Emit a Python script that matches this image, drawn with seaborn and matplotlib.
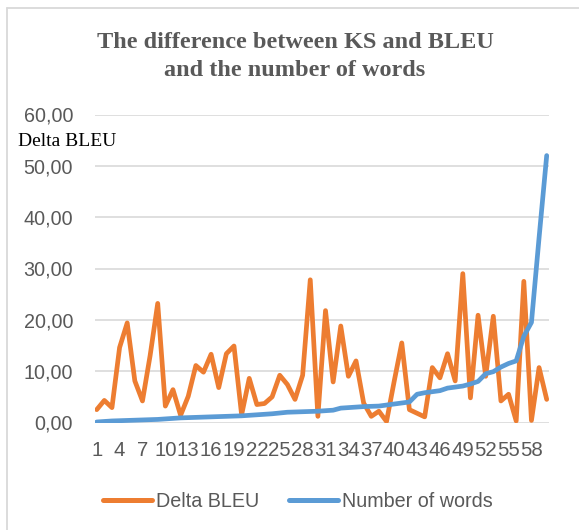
import matplotlib
matplotlib.use("Agg")
import matplotlib.pyplot as plt
import seaborn as sns
import numpy as np
import pandas as pd
from matplotlib.ticker import FuncFormatter, FixedLocator
from matplotlib.lines import Line2D

# ---- data ----
points = list(range(1, 61))
delta_bleu = [2.5, 4.3, 2.9, 14.6, 19.4, 8.1, 4.2, 13.0, 23.2, 3.2,
              6.4, 1.4, 5.1, 11.1, 9.8, 13.3, 6.8, 13.4, 14.9, 1.5,
              8.6, 3.5, 3.7, 5.0, 9.2, 7.4, 4.5, 9.2, 27.8, 1.2,
              21.8, 7.9, 18.8, 9.0, 12.0, 3.8, 1.2, 2.2, 0.2, 8.0,
              15.5, 2.5, 1.8, 1.1, 10.7, 8.7, 13.4, 8.1, 29.0, 4.8,
              20.9, 9.0, 20.7, 4.2, 5.5, 0.3, 27.5, 0.4, 10.7, 4.5]
number_of_words = [0.1, 0.2, 0.3, 0.35, 0.4, 0.45, 0.5, 0.55, 0.6, 0.7,
                   0.8, 0.9, 0.95, 1.0, 1.05, 1.1, 1.15, 1.2, 1.25, 1.3,
                   1.4, 1.5, 1.6, 1.7, 1.85, 2.0, 2.05, 2.1, 2.15, 2.2,
                   2.3, 2.4, 2.8, 2.9, 3.0, 3.1, 3.15, 3.2, 3.4, 3.6,
                   3.8, 4.0, 5.5, 5.8, 6.0, 6.2, 6.7, 6.9, 7.1, 7.5,
                   8.0, 9.5, 9.9, 10.8, 11.5, 12.0, 16.8, 19.5, 36.0, 52.0]
x_tick_labels = [str(v) for v in range(1, 61, 3)]
y_ticks = [0, 10, 20, 30, 40, 50, 60]
title_lines = ["The difference between KS and BLEU", "and the number of words"]
series_names = ["Delta BLEU", "Number of words"]
y_label = "Delta BLEU"

df = pd.DataFrame({"point": points, "Delta BLEU": delta_bleu,
                   "Number of words": number_of_words})

ORANGE = "#ED7D31"
BLUE = "#5B9BD5"
GREY_TXT = "#595959"
GRID = "#D9D9D9"

sns.set_style("white")
plt.rcParams["font.family"] = ["Liberation Sans", "DejaVu Sans"]

W, H = 579, 530
fig = plt.figure(figsize=(W / 100, H / 100), dpi=100)
left, right, bottom, top = 95, 549, 422.5, 114.5
ax = fig.add_axes([left / W, 1 - bottom / H, (right - left) / W, (bottom - top) / H])

sns.lineplot(data=df, x="point", y="Delta BLEU", ax=ax, color=ORANGE,
             linewidth=3.4, solid_capstyle="round", zorder=3)
sns.lineplot(data=df, x="point", y="Number of words", ax=ax, color=BLUE,
             linewidth=3.4, solid_capstyle="round", zorder=4)

scale = 450 / 59
ax.set_xlim(1 - 1.7 / scale, 60 + 2.3 / scale)
ax.set_ylim(0, 60)
ax.xaxis.set_major_locator(FixedLocator(list(range(1, 61, 3))))
ax.set_xticklabels(x_tick_labels)
ax.set_yticks(y_ticks)
ax.yaxis.set_major_formatter(FuncFormatter(lambda v, p: f"{v:.2f}".replace(".", ",")))
ax.grid(axis="y", color=GRID, linewidth=1.2)
ax.grid(axis="x", visible=False)
ax.set_axisbelow(True)
for s in ax.spines.values():
    s.set_visible(False)
ax.tick_params(axis="both", length=0, labelcolor=GREY_TXT)
ax.tick_params(axis="y", pad=15.8, labelsize=14.2)
ax.tick_params(axis="x", pad=13.3, labelsize=14.7)
ax.set_xlabel("")
ax.set_ylabel("")

# title
for txt, yc in zip(title_lines, [43, 71]):
    fig.text(295 / W, 1 - yc / H, txt, ha="center", va="center",
             fontsize=17.5, fontweight="bold", color=GREY_TXT,
             family=["Liberation Serif", "DejaVu Serif"])

# y axis label
fig.text(18.5 / W, 1 - 142 / H, y_label, ha="left", va="center", fontsize=14,
         color="black", family=["Liberation Serif", "DejaVu Serif"])

# legend
handles = [Line2D([], [], color=ORANGE, linewidth=3.6),
           Line2D([], [], color=BLUE, linewidth=3.6)]
fig.legend(handles, series_names, loc="center", bbox_to_anchor=(298 / W, 1 - 501.7 / H),
           ncol=2, frameon=False, handlelength=2.5, handletextpad=0.2,
           columnspacing=1.5, prop={"family": "Liberation Sans", "size": 14.2},
           labelcolor=GREY_TXT)

# chart frame (cropped at right and bottom)
fig.add_artist(Line2D([7 / W, 7 / W], [0, 1 - 8 / H], transform=fig.transFigure,
                      color=GRID, linewidth=1.3))
fig.add_artist(Line2D([7 / W, 1], [1 - 8 / H, 1 - 8 / H], transform=fig.transFigure,
                      color=GRID, linewidth=1.3))

fig.savefig("out.png", dpi=100)
